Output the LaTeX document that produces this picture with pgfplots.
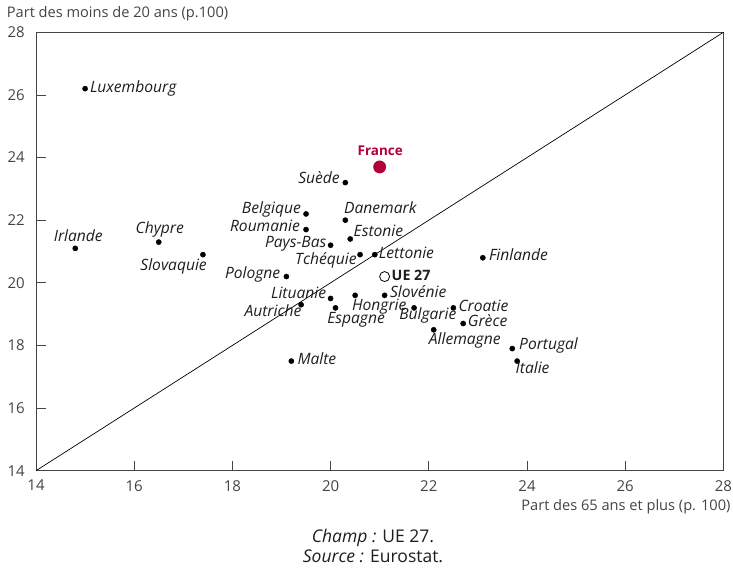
\documentclass[border=0pt]{standalone}
\usepackage{fontspec}
\setmainfont{Open Sans}
\usepackage{pgfplots}
\pgfplotsset{compat=1.18}
\definecolor{frred}{RGB}{178,0,56}
\definecolor{axgray}{RGB}{68,68,68}
\definecolor{txt}{RGB}{30,30,30}

\pgfplotsset{
  pays/.style n args={3}{only marks, mark=*, mark size=2.6pt, color=black,
    point meta=explicit symbolic, nodes near coords,
    nodes near coords style={anchor=#1, xshift=#2pt, yshift=#3pt, inner sep=0pt,
      font=\fontsize{15.6}{17}\selectfont\itshape, text=txt}},
}

\begin{document}
\begin{tikzpicture}
\path[use as bounding box] (-36pt,-103.3pt) rectangle (697pt,470.7pt);
\begin{axis}[
  at={(0pt,0pt)}, anchor=south west,
  scale only axis, width=687.4pt, height=438.4pt,
  xmin=14, xmax=28, ymin=14, ymax=28,
  xtick={14,16,...,28}, ytick={14,16,...,28},
  xtick pos=lower, ytick pos=left,
  tick align=inside, major tick length=10pt,
  axis line style={axgray, line width=0.8pt},
  tick style={axgray, line width=0.8pt},
  /pgf/number format/assume math mode=true,
  ticklabel style={font=\fontsize{15}{17}\selectfont, text=axgray, inner sep=0pt},
  xticklabel style={anchor=north, yshift=-9.3pt},
  yticklabel style={anchor=east, xshift=-11pt},
  clip=false,
]
\addplot[black, line width=0.7pt] coordinates {(14,14) (28,28)};
\addplot[pays={base west}{4.7}{-4.3}] coordinates {(15.0,26.2) [Luxembourg]};
\addplot[pays={base}{3}{7}] coordinates {(14.8,21.1) [Irlande]};
\addplot[pays={base}{1}{8.7}] coordinates {(16.5,21.3) [Chypre]};
\addplot[pays={base east}{4}{-15.7}] coordinates {(17.4,20.9) [Slovaquie]};
\addplot[pays={base east}{-6}{-2.3}] coordinates {(19.1,20.2) [Pologne]};
\addplot[pays={base east}{-5}{0.5}] coordinates {(19.5,22.2) [Belgique]};
\addplot[pays={base east}{-6}{-2.4}] coordinates {(19.5,21.7) [Roumanie]};
\addplot[pays={base east}{-4}{-2.7}] coordinates {(20.0,21.2) [Pays-Bas]};
\addplot[pays={base west}{-1.3}{6.7}] coordinates {(20.3,22.0) [Danemark]};
\addplot[pays={base west}{3.3}{2}] coordinates {(20.4,21.4) [Estonie]};
\addplot[pays={base east}{-3.3}{-10}] coordinates {(20.6,20.9) [Tchéquie]};
\addplot[pays={base west}{4}{-4.3}] coordinates {(20.9,20.9) [Lettonie]};
\addplot[pays={base east}{-5.4}{-0.6}] coordinates {(20.3,23.2) [Suède]};
\addplot[pays={base west}{6}{-2.3}] coordinates {(23.1,20.8) [Finlande]};
\addplot[pays={base east}{-4.3}{0.4}] coordinates {(20.0,19.5) [Lituanie]};
\addplot[pays={base east}{0.4}{-11.7}] coordinates {(19.4,19.3) [Autriche]};
\addplot[pays={base west}{-3.3}{-14.7}] coordinates {(20.5,19.6) [Hongrie]};
\addplot[pays={base west}{5.3}{-2}] coordinates {(21.1,19.6) [Slovénie]};
\addplot[pays={base west}{-8.4}{-15.4}] coordinates {(20.1,19.2) [Espagne]};
\addplot[pays={base west}{-15}{-12}] coordinates {(21.7,19.2) [Bulgarie]};
\addplot[pays={base west}{5}{-3.4}] coordinates {(22.5,19.2) [Croatie]};
\addplot[pays={base west}{4.6}{-2.7}] coordinates {(22.7,18.7) [Grèce]};
\addplot[pays={base west}{-5}{-14.7}] coordinates {(22.1,18.5) [Allemagne]};
\addplot[pays={base west}{6.7}{-1}] coordinates {(23.7,17.9) [Portugal]};
\addplot[pays={base west}{-1.7}{-12.7}] coordinates {(23.8,17.5) [Italie]};
\addplot[pays={base west}{6}{-3.6}] coordinates {(19.2,17.5) [Malte]};
\addplot[only marks, mark=*, mark size=6.2pt, color=frred,
  point meta=explicit symbolic, nodes near coords,
  nodes near coords style={anchor=base, xshift=0.5pt, yshift=11.7pt, inner sep=0pt,
    font=\fontsize{13.5}{15}\selectfont\bfseries, text=frred}
] coordinates {(21.0,23.7) [France]};
\addplot[only marks, mark=*, mark size=5pt, draw=black, fill=white, line width=0.8pt,
  point meta=explicit symbolic, nodes near coords,
  nodes near coords style={anchor=base west, xshift=6.7pt, yshift=-4pt, inner sep=0pt,
    font=\fontsize{14.3}{16}\selectfont\bfseries, text=txt}
] coordinates {(21.1,20.2) [UE 27]};
\end{axis}
\begin{scope}[font=\fontsize{14.6}{17}\selectfont]
\node[anchor=base west, inner sep=0pt, text=axgray] at (-29.3pt,453.2pt) {Part des moins de 20 ans (p.100)};
\node[anchor=base east, inner sep=0pt, text=axgray] at (694.7pt,-39.3pt) {Part des 65 ans et plus (p. 100)};
\end{scope}
\begin{scope}[font=\fontsize{17.5}{19}\selectfont]
\node[anchor=base, inner sep=0pt, text=txt] at (337pt,-71.3pt) {\textit{Champ :} UE 27.};
\node[anchor=base, inner sep=0pt, text=txt] at (337pt,-91.3pt) {\textit{Source :} Eurostat.};
\end{scope}
\end{tikzpicture}
\end{document}
